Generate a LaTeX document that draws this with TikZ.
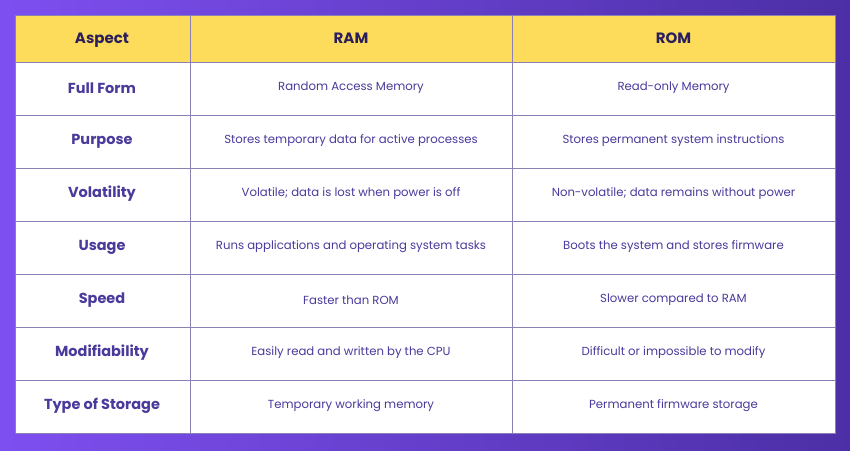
\documentclass[tikz,border=0pt]{standalone}
\usepackage{fontspec}
\setmainfont{Poppins}
\usetikzlibrary{positioning}
\definecolor{bgleft}{HTML}{7E4FF0}
\definecolor{bgright}{HTML}{4C2FA6}
\definecolor{headyellow}{HTML}{FDDC5C}
\definecolor{headtext}{HTML}{2A1F5C}
\definecolor{celltext}{HTML}{4A3A9C}
\definecolor{gridline}{HTML}{8A80B4}
\tikzset{
  head/.style={font=\fontsize{15}{17}\selectfont\bfseries, text=headtext},
  aspect/.style={font=\fontsize{14.5}{17}\selectfont\bfseries, text=celltext},
  cell/.style={font=\fontsize{11.7}{14}\selectfont, text=celltext}
}
\begin{document}
\begin{tikzpicture}[x=1pt,y=-1pt]
		% Background
		\shade[left color=bgleft, right color=bgright] (0,0) rectangle (850,450);
		\useasboundingbox (0,0) rectangle (850,450);
		% Table body and header
		\fill[white] (15,62) rectangle (835,433);
		\fill[headyellow] (15,15) rectangle (835,62);
		\foreach \y in {62,115,168,221,274,327,380}
			\draw[gridline, line width=0.8pt] (15,\y) -- (835,\y);
		\foreach \x in {190,512}
			\draw[gridline, line width=0.8pt] (\x,15) -- (\x,433);
		\draw[gridline, line width=0.8pt] (15,15) rectangle (835,433);
		% Header
		\node[head, text height=11pt, text depth=3pt] (h1) at (102,39) {Aspect};
		\node[head, text height=11pt, text depth=3pt] (h2) at (351,39) {RAM};
		\node[head, text height=11pt, text depth=3pt] (h3) at (673.5,39) {ROM};
		% Rows
		\foreach \i/\a/\b/\c in {
			1/Full Form/Random Access Memory/Read-only Memory,
			2/Purpose/Stores temporary data for active processes/Stores permanent system instructions,
			3/Volatility/Volatile; data is lost when power is off/Non-volatile; data remains without power,
			4/Usage/Runs applications and operating system tasks/Boots the system and stores firmware,
			5/Speed/Faster than ROM/Slower compared to RAM,
			6/Modifiability/Easily read and written by the CPU/Difficult or impossible to modify,
			7/Type of Storage/Temporary working memory/Permanent firmware storage}
		{
			\node[aspect] (a\i) at (102,{62+53*\i-27}) {\a};
			\node[cell] (r\i) at (351,{62+53*\i-27}) {\b};
			\node[cell] (o\i) at (673.5,{62+53*\i-27}) {\c};
		}
	\end{tikzpicture}
\end{document}
